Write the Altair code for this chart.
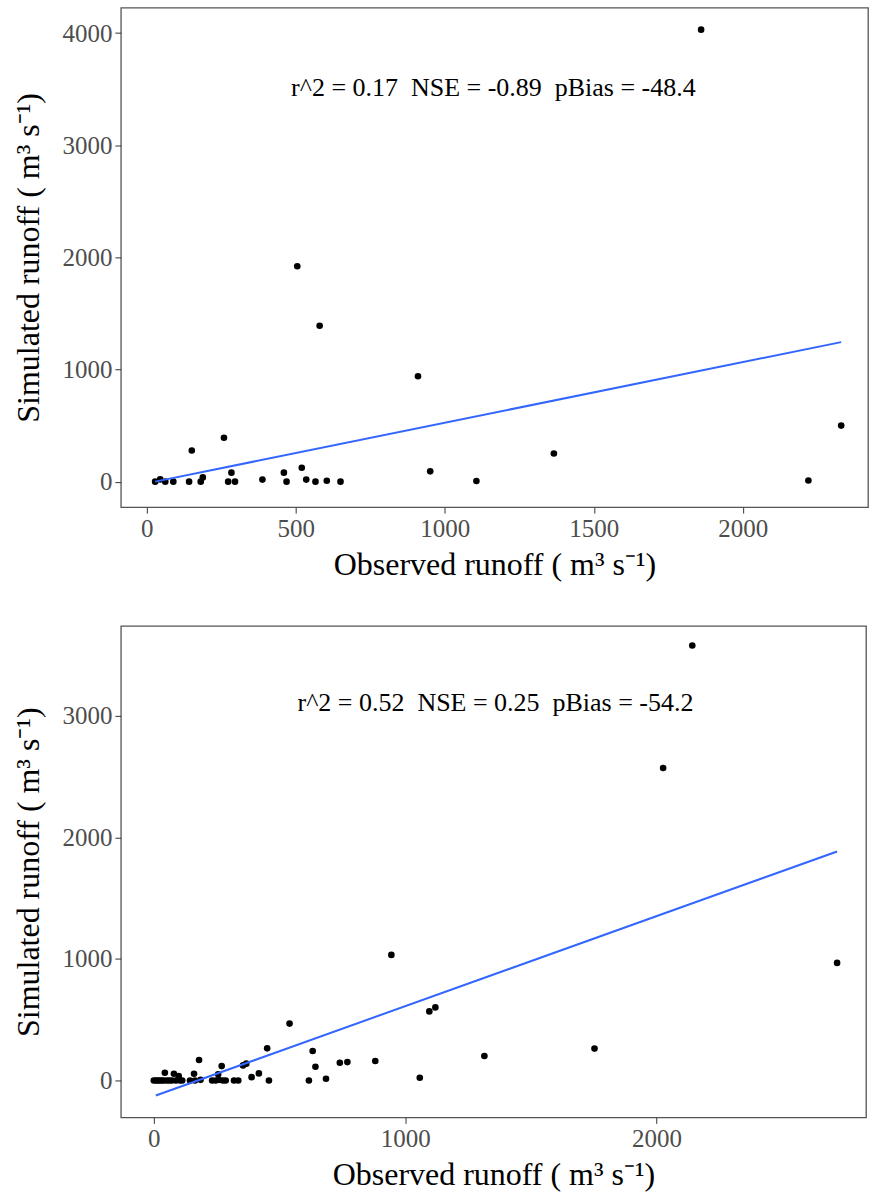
import altair as alt
import pandas as pd

# ---- Panel 1 data (observed vs simulated runoff, m3/s) ----
obs1 = [28, 45, 62, 89, 142, 181, 188, 151, 259, 273, 296, 284, 388, 460, 469,
        520, 535, 566, 604, 650, 505, 580, 910, 951, 1106, 1366, 1860, 2220, 2330]
sim1 = [0, 20, 0, 0, 0, 0, 38, 278, 391, 0, 0, 80, 18, 80, 0,
        124, 18, 0, 8, 0, 1920, 1390, 940, 92, 6, 251, 4030, 10, 500]
fit1_x = [28, 2330]
fit1_y = [0, 1244]
label1 = "r^2 = 0.17\u00a0\u00a0NSE = -0.89\u00a0\u00a0pBias = -48.4"

# ---- Panel 2 data ----
obs2 = [0, 8, 16, 24, 32, 40, 52, 62, 72, 88, 104, 113, 44, 80, 99,
        144, 164, 160, 180, 186, 232, 246, 259, 275, 286, 270, 256, 319, 336,
        355, 368, 389, 418, 451, 458, 540, 617, 632, 643, 685, 740, 770,
        881, 945, 1058, 1096, 1120, 1315, 1753, 2026, 2142, 2718]
sim2 = [0, 0, 0, 0, 0, 0, 0, 0, 0, 0, 0, 0, 63, 55, 36,
        0, 0, 55, 168, 5, 0, 0, 5, 0, 0, 118, 50, 0, 0,
        124, 138, 27, 58, 264, 0, 468, 0, 242, 113, 14, 146, 151,
        160, 1033, 22, 568, 601, 201, 262, 2570, 3578, 967]
fit2_x = [8, 2718]
fit2_y = [-124, 1884]
label2 = "r^2 = 0.52\u00a0\u00a0NSE = 0.25\u00a0\u00a0pBias = -54.2"

XTITLE = "Observed runoff ( m³ s⁻¹)"
YTITLE = "Simulated runoff ( m³ s⁻¹)"


def panel(obs, sim, fx, fy, label, lx, ly, xdom, ydom, xticks, yticks, w, h):
    pts = pd.DataFrame({"obs": obs, "sim": sim})
    fit = pd.DataFrame({"obs": fx, "sim": fy})
    ann = pd.DataFrame({"obs": [lx], "sim": [ly], "t": [label]})
    x = alt.X("obs:Q", scale=alt.Scale(domain=xdom, nice=False, zero=False),
              axis=alt.Axis(values=xticks, title=XTITLE, format="d"))
    y = alt.Y("sim:Q", scale=alt.Scale(domain=ydom, nice=False, zero=False),
              axis=alt.Axis(values=yticks, title=YTITLE, format="d"))
    p = alt.Chart(pts).mark_circle(size=44, color="black", opacity=1).encode(x=x, y=y)
    l = alt.Chart(fit).mark_line(color="#3366FF", strokeWidth=2).encode(x=x, y=y)
    t = alt.Chart(ann).mark_text(font="Liberation Serif", fontSize=26, color="black").encode(
        x=x, y=y, text="t:N")
    return alt.layer(p, l, t).properties(width=w, height=h)


top = panel(obs1, sim1, fit1_x, fit1_y, label1, 1163, 3513,
            [-87, 2420], [-227, 4226], [0, 500, 1000, 1500, 2000],
            [0, 1000, 2000, 3000, 4000], 748, 500)
bottom = panel(obs2, sim2, fit2_x, fit2_y, label2, 1359, 3106,
               [-131, 2833], [-304, 3739], [0, 1000, 2000],
               [0, 1000, 2000, 3000], 746, 492)

chart = alt.vconcat(top, bottom).properties(
    padding={"left": 12, "top": 6, "right": 0, "bottom": 0}
).configure_view(stroke="#555", strokeWidth=1.3).configure_axis(
    grid=False, domain=False,
    labelFont="Liberation Serif", labelFontSize=25, labelColor="#4D4D4D",
    titleFont="Liberation Serif", titleFontSize=32, titleColor="black",
    titleFontWeight="normal", tickColor="#333", tickSize=6,
    labelPadding=3, titlePadding=8
).configure_axisY(titlePadding=16).configure_concat(spacing=44)

chart.save("out.html", embed_options={"renderer": "svg", "actions": False})
